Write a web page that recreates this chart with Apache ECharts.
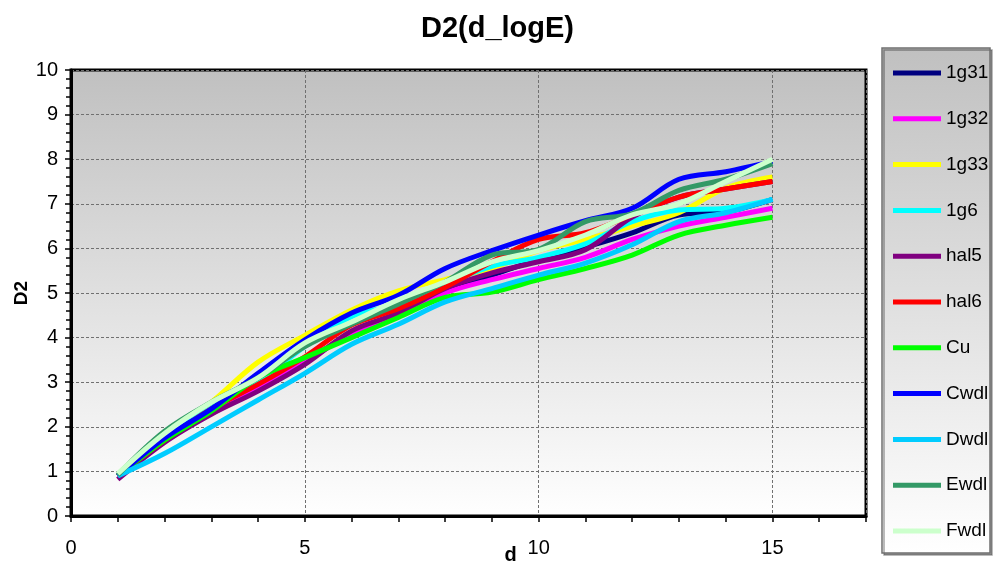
<!DOCTYPE html>
<html>
<head>
<meta charset="utf-8">
<script src="https://cdn.jsdelivr.net/npm/echarts@6/dist/echarts.min.js"></script>
<style>
  html, body { margin: 0; padding: 0; background: #fff; }
  #main { width: 995px; height: 566px; }
</style>
</head>
<body>
<div id="main"></div>
<script>
// x values (d)
var dValues = [1, 2, 3, 4, 5, 6, 7, 8, 9, 10, 11, 12, 13, 14, 15];

var names = ['1g31', '1g32', '1g33', '1g6', 'hal5', 'hal6', 'Cu', 'Cwdl', 'Dwdl', 'Ewdl', 'Fwdl'];
var colors = ['#000080', '#ff00ff', '#ffff00', '#00ffff', '#800080', '#ff0000', '#00ff00', '#0000ff', '#00ccff', '#339966', '#ccffcc'];

// D2 values
var s1g31 = [0.9, 1.7, 2.3, 2.85, 3.45, 4.1, 4.55, 5.05, 5.4, 5.75, 6.03, 6.35, 6.75, 6.82, 7.1];
var s1g32 = [0.9, 1.7, 2.3, 2.85, 3.45, 4.1, 4.5, 5.0, 5.3, 5.55, 5.8, 6.2, 6.5, 6.7, 6.9];
var s1g33 = [0.9, 1.8, 2.55, 3.45, 4.05, 4.62, 5.05, 5.3, 5.55, 5.95, 6.2, 6.5, 6.8, 7.35, 7.6];
var s1g6 = [0.9, 1.75, 2.45, 3.0, 3.8, 4.47, 4.75, 5.2, 5.6, 5.8, 6.1, 6.6, 6.86, 6.9, 7.1];
var hal5 = [0.82, 1.65, 2.28, 2.8, 3.4, 4.15, 4.55, 5.1, 5.45, 5.7, 5.97, 6.7, 7.15, 7.33, 7.5];
var hal6 = [0.9, 1.7, 2.4, 2.95, 3.57, 4.28, 4.65, 5.13, 5.7, 6.2, 6.35, 6.75, 7.15, 7.33, 7.5];
var cu = [0.9, 1.7, 2.35, 3.1, 3.55, 4.0, 4.45, 4.9, 5.02, 5.3, 5.55, 5.85, 6.3, 6.52, 6.7];
var cwdl = [0.9, 1.75, 2.4, 3.2, 3.95, 4.55, 4.95, 5.55, 5.95, 6.3, 6.62, 6.9, 7.55, 7.72, 7.95];
var dwdl = [0.9, 1.4, 2.0, 2.6, 3.2, 3.85, 4.3, 4.8, 5.1, 5.4, 5.67, 6.08, 6.6, 6.8, 7.1];
var ewdl = [0.92, 1.9, 2.55, 3.1, 3.8, 4.3, 4.75, 5.25, 5.85, 5.98, 6.6, 6.78, 7.3, 7.55, 7.9];
var fwdl = [0.95, 1.85, 2.55, 3.1, 3.88, 4.35, 4.85, 5.25, 5.7, 5.95, 6.3, 6.75, 7.0, 7.5, 8.0];

var allSeries = [s1g31, s1g32, s1g33, s1g6, hal5, hal6, cu, cwdl, dwdl, ewdl, fwdl];

var myChart = echarts.init(document.getElementById('main'));

var series = allSeries.map(function (vals, i) {
    return {
        name: names[i],
        type: 'line',
        xAxisIndex: 0,
        smooth: 0.35,
        symbol: 'none',
        lineStyle: { color: colors[i], width: 5 },
        itemStyle: { color: colors[i] },
        data: vals.map(function (v, j) { return [dValues[j], v]; })
    };
});

var option = {
    animation: false,
    textStyle: { fontFamily: 'Liberation Sans, Arial, sans-serif' },
    title: {
        text: 'D2(d_logE)',
        left: 'center',
        top: 9,
        textStyle: { fontSize: 29, fontWeight: 'bold', color: '#000' }
    },
    graphic: [{
        type: 'rect',
        shape: { x: 882, y: 48, width: 108, height: 505 },
        style: {
            fill: new echarts.graphic.LinearGradient(0, 0, 0, 1, [
                { offset: 0, color: '#c0c0c0' },
                { offset: 1, color: '#ffffff' }
            ]),
            stroke: '#707070',
            lineWidth: 1.5,
            shadowColor: 'rgba(0,0,0,0.35)',
            shadowOffsetX: 2,
            shadowOffsetY: 2
        },
        z: -1
    }],
    legend: {
        orient: 'vertical',
        left: 893,
        top: 63,
        padding: 0,
        itemWidth: 48,
        itemHeight: 5,
        itemGap: 25.8,
        icon: 'rect',
        data: names,
        textStyle: { fontSize: 19, color: '#000', lineHeight: 20 }
    },
    grid: {
        left: 71,
        top: 70,
        right: 129,
        bottom: 50,
        outerBoundsMode: 'none',
        containLabel: false,
        show: true,
        borderColor: '#000',
        borderWidth: 3,
        backgroundColor: new echarts.graphic.LinearGradient(0, 0, 0, 1, [
            { offset: 0, color: '#c0c0c0' },
            { offset: 1, color: '#ffffff' }
        ])
    },
    xAxis: [{
        type: 'value',
        min: 0,
        max: 17,
        interval: 5,
        name: 'd',
        nameLocation: 'middle',
        nameGap: 29,
        nameMoveOverlap: false,
        nameTextStyle: { fontSize: 20, fontWeight: 'bold', color: '#000', padding: [0, 0, 0, 84] },
        axisLine: { show: true, lineStyle: { color: '#000', width: 3 } },
        axisTick: { show: false },
        axisLabel: { fontSize: 20, color: '#000', margin: 22, showMaxLabel: false },
        splitLine: { show: true, lineStyle: { color: '#707070', type: [3, 2], width: 1 } }
    }, {
        type: 'value',
        position: 'bottom',
        min: 0,
        max: 17,
        interval: 1,
        axisLine: { show: false },
        axisTick: { show: true, length: 6, lineStyle: { color: '#000', width: 1.5 } },
        axisLabel: { show: false },
        splitLine: { show: false }
    }],
    yAxis: {
        type: 'value',
        min: 0,
        max: 10,
        interval: 1,
        name: 'D2',
        nameLocation: 'middle',
        nameGap: 40,
        nameMoveOverlap: false,
        nameTextStyle: { fontSize: 19, fontWeight: 'bold', color: '#000' },
        axisLine: { show: true, lineStyle: { color: '#000', width: 3 } },
        axisTick: { show: true, length: 6, lineStyle: { color: '#000', width: 1.5 } },
        minorTick: { show: true, splitNumber: 5, length: 5, lineStyle: { color: '#000', width: 1.5 } },
        axisLabel: { fontSize: 20, color: '#000', margin: 13 },
        splitLine: { show: true, lineStyle: { color: '#707070', type: [3, 2], width: 1 } }
    },
    series: series
};

myChart.setOption(option);
</script>
</body>
</html>
